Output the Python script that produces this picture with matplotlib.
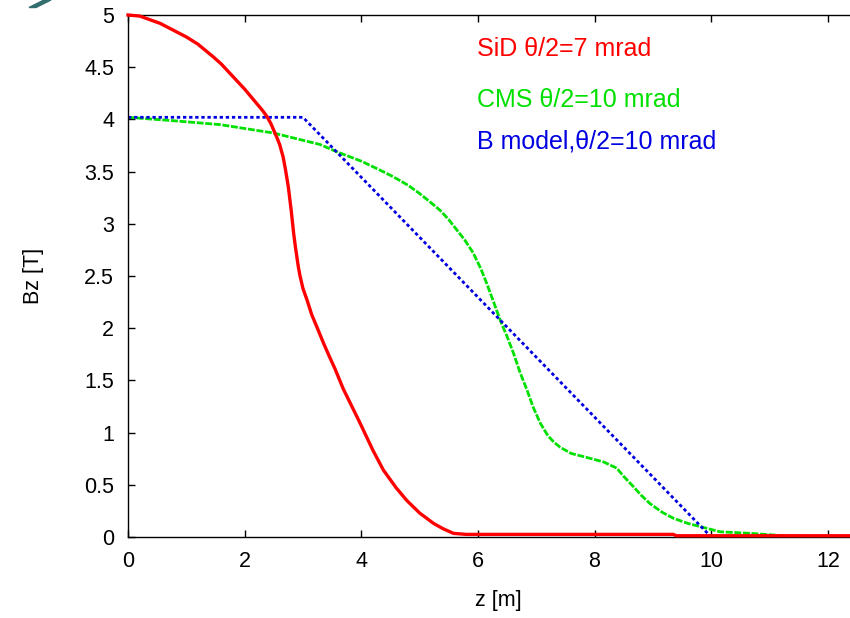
import numpy as np
import matplotlib
matplotlib.use("Agg")
import matplotlib.pyplot as plt
from matplotlib.patches import Polygon
from matplotlib.ticker import FuncFormatter

plt.rcParams['font.family'] = ['Liberation Sans', 'DejaVu Sans']

# SiD, theta/2 = 7 mrad
sid_z = [0, 0.2, 0.55, 1.0, 1.2, 1.46, 1.6, 1.8, 2.0, 2.15, 2.3, 2.38, 2.45, 2.55, 2.6,
         2.66, 2.7, 2.75, 2.8, 2.84, 2.87, 2.92, 2.95, 3.0, 3.07, 3.15, 3.24, 3.35, 3.46,
         3.55, 3.69, 3.98, 4.2, 4.38, 4.6, 4.78, 5.0, 5.24, 5.4, 5.58, 5.8, 9.35,
         9.4, 12.5]
sid_b = [5.0, 4.99, 4.92, 4.79, 4.72, 4.60, 4.53, 4.41, 4.29, 4.19, 4.09, 4.03, 3.96, 3.83, 3.76,
         3.64, 3.52, 3.35, 3.12, 2.91, 2.78, 2.59, 2.50, 2.38, 2.27, 2.13, 2.01, 1.86, 1.72,
         1.61, 1.42, 1.09, 0.83, 0.64, 0.47, 0.35, 0.23, 0.13, 0.08, 0.035, 0.025, 0.025,
         0.012, 0.012]

# CMS, theta/2 = 10 mrad
cms_z = [0, 0.72, 1.58, 2.49, 3.29, 3.58, 4.0, 4.3, 4.55, 4.8, 5.0, 5.2, 5.35, 5.5, 5.64,
         5.78, 5.92, 6.05, 6.15, 6.25, 6.38, 6.5, 6.61, 6.72, 6.84, 6.95, 7.07, 7.2, 7.3,
         7.41, 7.6, 7.81, 8.15, 8.38, 8.5, 8.67, 8.8, 8.95, 9.15, 9.35, 9.6, 9.81, 10.15,
         10.67, 11.3, 12.5]
cms_b = [4.02, 3.99, 3.95, 3.87, 3.76, 3.69, 3.60, 3.52, 3.45, 3.37, 3.29, 3.20, 3.13, 3.04, 2.94,
         2.84, 2.72, 2.57, 2.43, 2.28, 2.08, 1.92, 1.76, 1.58, 1.41, 1.24, 1.09, 0.97, 0.91,
         0.86, 0.80, 0.77, 0.72, 0.66, 0.58, 0.48, 0.40, 0.32, 0.24, 0.18, 0.13, 0.10, 0.05,
         0.035, 0.01, 0.0]

# B model
mod_z = [0, 3.0, 10.0]
mod_b = [4.02, 4.02, 0.0]

xticks = [0, 2, 4, 6, 8, 10, 12]
yticks = [0, 0.5, 1, 1.5, 2, 2.5, 3, 3.5, 4, 4.5, 5]

fig = plt.figure(figsize=(8.5, 6.18), dpi=100)
ax = fig.add_axes([128 / 850, 81 / 618, 729 / 850, 522 / 618])

ax.plot(sid_z, sid_b, color='#ff0000', lw=2.4, clip_on=False, zorder=3)
ax.plot(cms_z, cms_b, color='#00e000', lw=2, ls=(0, (2.5, 0.6)), zorder=2)
ax.plot(mod_z, mod_b, color='#0000e0', lw=2, ls=(0, (1.2, 1.0)), zorder=2)

ax.text(5.99, 4.61, 'SiD θ/2=7 mrad', color='#ff0000', fontsize=18, va='baseline')
ax.text(5.99, 4.12, 'CMS θ/2=10 mrad', color='#00e000', fontsize=18, va='baseline')
ax.text(5.99, 3.72, 'B model,θ/2=10 mrad', color='#0000e0', fontsize=18, va='baseline')

ax.set_xlim(0, 12.5)
ax.set_ylim(0, 5)
ax.set_xticks(xticks)
ax.set_yticks(yticks)
ax.yaxis.set_major_formatter(FuncFormatter(lambda v, p: '%g' % v))
ax.tick_params(direction='in', length=5, width=1, top=True, right=True,
               labelsize=15.5, pad=10)
for s in ax.spines.values():
    s.set_linewidth(1)

ax.set_xlabel('z [m]', fontsize=15.5)
ax.set_ylabel('Bz [T]', fontsize=15.5, va='center')
ax.xaxis.set_label_coords(370 / 729, -53 / 522)
ax.yaxis.set_label_coords(-94 / 729, 0.5)

# slide decoration in the top left corner
px = np.array([[29, 7.5], [36, 7.5], [51, 0], [44, 0]])
fig.patches.append(Polygon(np.column_stack([px[:, 0] / 850, 1 - px[:, 1] / 618]),
                           closed=True, color='#336e6e', transform=fig.transFigure))

fig.savefig('out.png', dpi=100)
